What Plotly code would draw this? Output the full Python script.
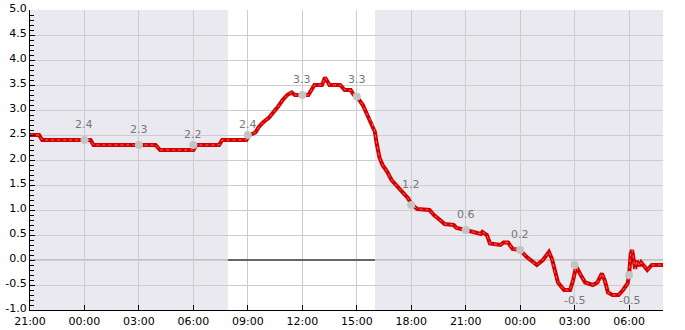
import plotly.graph_objects as go

# ---- data ----
times = [
    "2024-01-01 21:00", "2024-01-01 21:30", "2024-01-01 21:40", "2024-01-02 00:20", "2024-01-02 00:30",
    "2024-01-02 03:55", "2024-01-02 04:10", "2024-01-02 06:00", "2024-01-02 06:10", "2024-01-02 07:25",
    "2024-01-02 07:35", "2024-01-02 08:55", "2024-01-02 09:05", "2024-01-02 09:25", "2024-01-02 09:35",
    "2024-01-02 09:50", "2024-01-02 10:10", "2024-01-02 10:25", "2024-01-02 10:40", "2024-01-02 10:55",
    "2024-01-02 11:10", "2024-01-02 11:25", "2024-01-02 11:35", "2024-01-02 12:20", "2024-01-02 12:35",
    "2024-01-02 12:40", "2024-01-02 13:05", "2024-01-02 13:15", "2024-01-02 13:30", "2024-01-02 14:05",
    "2024-01-02 14:20", "2024-01-02 14:40", "2024-01-02 14:50", "2024-01-02 15:00", "2024-01-02 15:20",
    "2024-01-02 15:35", "2024-01-02 15:50", "2024-01-02 16:00", "2024-01-02 16:05", "2024-01-02 16:15",
    "2024-01-02 16:25", "2024-01-02 16:40", "2024-01-02 16:55", "2024-01-02 17:10", "2024-01-02 17:30",
    "2024-01-02 17:50", "2024-01-02 18:00", "2024-01-02 18:20", "2024-01-02 19:00", "2024-01-02 19:15",
    "2024-01-02 19:35", "2024-01-02 19:50", "2024-01-02 20:20", "2024-01-02 20:30", "2024-01-02 21:00",
    "2024-01-02 21:30", "2024-01-02 21:50", "2024-01-02 21:55", "2024-01-02 22:10", "2024-01-02 22:20",
    "2024-01-02 22:55", "2024-01-02 23:05", "2024-01-02 23:20", "2024-01-02 23:35", "2024-01-02 23:55",
    "2024-01-03 00:00", "2024-01-03 00:20", "2024-01-03 00:40", "2024-01-03 00:55", "2024-01-03 01:15",
    "2024-01-03 01:35", "2024-01-03 01:45", "2024-01-03 01:55", "2024-01-03 02:05", "2024-01-03 02:25",
    "2024-01-03 02:45", "2024-01-03 02:55", "2024-01-03 03:05", "2024-01-03 03:20", "2024-01-03 03:35",
    "2024-01-03 04:00", "2024-01-03 04:15", "2024-01-03 04:30", "2024-01-03 04:40", "2024-01-03 04:50",
    "2024-01-03 05:05", "2024-01-03 05:25", "2024-01-03 05:40", "2024-01-03 05:55", "2024-01-03 06:00",
    "2024-01-03 06:05", "2024-01-03 06:10", "2024-01-03 06:20", "2024-01-03 06:25", "2024-01-03 06:35",
    "2024-01-03 06:40", "2024-01-03 07:00", "2024-01-03 07:15", "2024-01-03 07:52",
]
values = [
    2.5, 2.5, 2.4, 2.4, 2.3,
    2.3, 2.2, 2.2, 2.3, 2.3,
    2.4, 2.4, 2.5, 2.55, 2.65,
    2.75, 2.85, 2.95, 3.07, 3.2,
    3.3, 3.35, 3.3, 3.3, 3.45,
    3.5, 3.5, 3.65, 3.5, 3.5,
    3.4, 3.4, 3.3, 3.27, 3.1,
    2.9, 2.74, 2.56, 2.35, 2.05,
    1.9, 1.77, 1.6, 1.5, 1.37,
    1.23, 1.12, 1.02, 1.0, 0.9,
    0.8, 0.72, 0.7, 0.64, 0.6,
    0.56, 0.52, 0.56, 0.5, 0.33,
    0.3, 0.35, 0.35, 0.22, 0.22,
    0.2, 0.07, -0.04, -0.1, 0.0,
    0.16, 0.02, -0.25, -0.45, -0.6,
    -0.6, -0.4, -0.13, -0.3, -0.45,
    -0.5, -0.45, -0.27, -0.42, -0.65,
    -0.7, -0.7, -0.6, -0.47, -0.3,
    0.12, 0.2, -0.18, -0.02, -0.12,
    -0.05, -0.2, -0.1, -0.1,
]

marker_times = [
    "2024-01-02 00:00", "2024-01-02 03:00", "2024-01-02 06:00", "2024-01-02 09:00",
    "2024-01-02 12:00", "2024-01-02 15:00", "2024-01-02 18:00", "2024-01-02 21:00",
    "2024-01-03 00:00", "2024-01-03 03:00", "2024-01-03 06:00",
]
marker_values = [2.4, 2.3, 2.3, 2.5, 3.3, 3.27, 1.1, 0.6, 0.2, -0.1, -0.3]
marker_labels = [2.4, 2.3, 2.2, 2.4, 3.3, 3.3, 1.2, 0.6, 0.2, -0.5, -0.5]

night_start = ["2024-01-01 21:00", "2024-01-02 16:00"]
night_end = ["2024-01-02 07:54", "2024-01-03 07:52"]

x_range = ["2024-01-01 21:00", "2024-01-03 07:52"]
y_ticks = [-1.0, -0.5, 0.0, 0.5, 1.0, 1.5, 2.0, 2.5, 3.0, 3.5, 4.0, 4.5, 5.0]

# ---- figure ----
fig = go.Figure()

fig.add_trace(go.Scatter(
    x=times, y=values, mode="lines",
    line=dict(color="#d40000", width=4), hoverinfo="skip", showlegend=False,
))
fig.add_trace(go.Scatter(
    x=times, y=values, mode="lines",
    line=dict(color="rgba(255,190,190,0.55)", width=1, dash="dot"), hoverinfo="skip", showlegend=False,
))
fig.add_trace(go.Scatter(
    x=marker_times, y=marker_values, mode="markers",
    marker=dict(color="#c4c4c4", size=8), hoverinfo="skip", showlegend=False,
))

for t, lab in zip(marker_times, marker_labels):
    fig.add_annotation(
        x=t, y=lab, text=f"{lab:.1f}", showarrow=False,
        yshift=16 if lab >= 0 else -15,
        font=dict(family="DejaVu Sans", size=11, color="#777777"),
        xanchor="center", yanchor="middle",
    )

for s, e in zip(night_start, night_end):
    fig.add_shape(
        type="rect", xref="x", yref="paper", x0=s, x1=e, y0=0, y1=1,
        fillcolor="rgba(222,222,232,0.68)", line=dict(width=0), layer="between",
    )
# zero line: grey under the night shading, black in daylight
fig.add_shape(
    type="line", xref="paper", yref="y", x0=0, x1=1, y0=0, y1=0,
    line=dict(color="#999999", width=1.2), layer="between",
)
fig.add_shape(
    type="line", xref="x", yref="y", x0=night_end[0], x1=night_start[1], y0=0, y1=0,
    line=dict(color="black", width=1.2), layer="between",
)

fig.update_layout(
    width=685, height=330,
    margin=dict(l=30, r=22, t=10, b=20),
    paper_bgcolor="white", plot_bgcolor="white",
    font=dict(family="DejaVu Sans", size=11, color="black"),
    showlegend=False,
)
fig.update_xaxes(
    type="date", range=x_range, automargin=False,
    dtick=3 * 3600 * 1000, tick0="2024-01-01 21:00", tickformat="%H:%M",
    showgrid=True, gridcolor="#cccccc", gridwidth=1,
    showline=True, linecolor="black", linewidth=1,
    ticks="inside", ticklen=5, tickcolor="black",
    tickfont=dict(size=11), ticklabelstandoff=1,
)
fig.update_yaxes(
    range=[-1, 5], tickvals=y_ticks, ticktext=[f"{v:.1f}" for v in y_ticks],
    automargin=False,
    showgrid=True, gridcolor="#cccccc", gridwidth=1,
    zeroline=False,
    showline=True, linecolor="black", linewidth=1,
    ticks="inside", ticklen=5, tickcolor="black",
    minor=dict(ticks="inside", ticklen=4, dtick=0.1, tickcolor="black", showgrid=False),
    tickfont=dict(size=11), ticklabelshift=-2,
)

fig.write_html("out.html")
